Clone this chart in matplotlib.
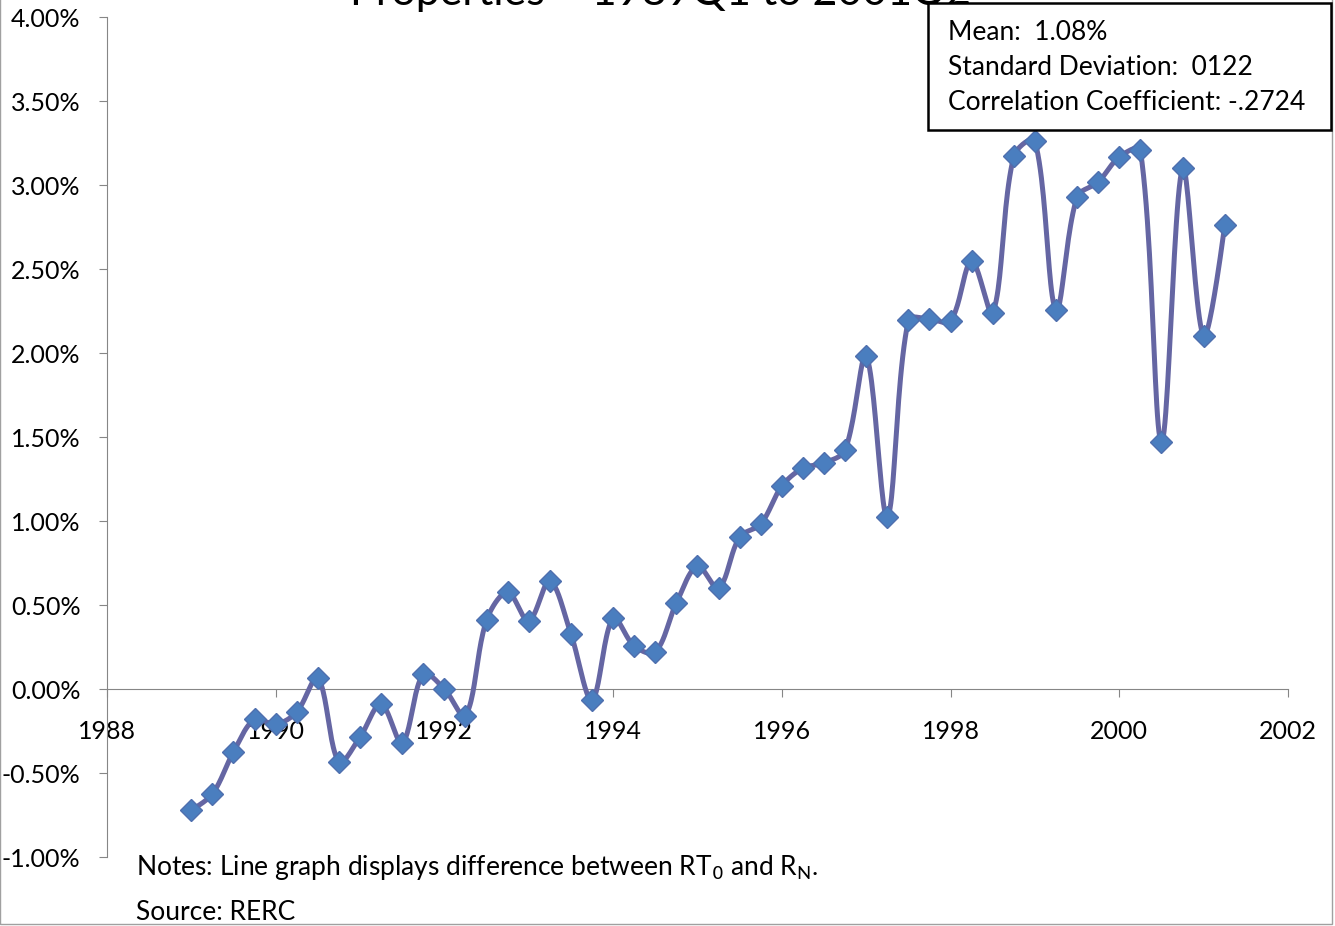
import matplotlib.pyplot as plt
from matplotlib.patches import Rectangle
import numpy as np

plt.rcParams['font.family'] = ['Lato', 'DejaVu Sans']

# quarterly observations, 1989Q1 .. 2001Q2
years = [1989 + 0.25 * i for i in range(50)]
spread = [-0.72, -0.625, -0.375, -0.18, -0.21, -0.137, 0.065, -0.435, -0.286, -0.089,
          -0.32, 0.089, 0.0, -0.16, 0.41, 0.577, 0.405, 0.643, 0.327, -0.065,
          0.423, 0.256, 0.22, 0.512, 0.732, 0.60, 0.905, 0.982, 1.208, 1.315,
          1.345, 1.423, 1.982, 1.024, 2.196, 2.202, 2.19, 2.548, 2.238, 3.173,
          3.262, 2.256, 2.929, 3.018, 3.167, 3.208, 1.47, 3.101, 2.101, 2.762]

y_ticks = [-1.0, -0.5, 0.0, 0.5, 1.0, 1.5, 2.0, 2.5, 3.0, 3.5, 4.0]
x_ticks = [1988, 1990, 1992, 1994, 1996, 1998, 2000, 2002]

stats_lines = ["Mean:  1.08%", "Standard Deviation:  0122", "Correlation Coefficient: -.2724"]


def smooth_curve(xs, ys, sx=84.36, sy=168.0, n=24):
    # smoothed line like excel: bezier segments, tangents weighted by segment length
    # (done in pixel-ish units so short hops next to long jumps don't overshoot)
    p = np.column_stack([np.asarray(xs, float) * sx, np.asarray(ys, float) * sy])
    m = len(p)
    d = np.hypot(*np.diff(p, axis=0).T)
    tang = np.zeros_like(p)
    for i in range(m):
        a = p[max(i - 1, 0)]
        b = p[min(i + 1, m - 1)]
        tang[i] = b - a
    out = []
    t = np.linspace(0, 1, n)[:, None]
    for i in range(m - 1):
        p0, p3 = p[i], p[i + 1]
        dl = d[i - 1] if i > 0 else d[i]
        dr = d[i + 1] if i + 1 < m - 1 else d[i]
        c1 = p0 + tang[i] * d[i] / (dl + d[i]) / 3 if i > 0 else p0
        c2 = p3 - tang[i + 1] * d[i] / (d[i] + dr) / 3 if i + 1 < m - 1 else p3
        b = (1 - t) ** 3 * p0 + 3 * (1 - t) ** 2 * t * c1 + 3 * (1 - t) * t ** 2 * c2 + t ** 3 * p3
        out.append(b)
    out = np.vstack(out)
    return out[:, 0] / sx, out[:, 1] / sy


fig = plt.figure(figsize=(13.35, 9.26), dpi=100)
ax = fig.add_axes([0.0801, 0.0745, 0.8847, 0.9071])

cx, cy = smooth_curve(years, spread)
ax.plot(cx, cy, color='#6566A3', linewidth=3.6, solid_capstyle='round', zorder=3)
ax.plot(years, spread, linestyle='none', marker='D', markersize=11,
        markerfacecolor='#4A7EBF', markeredgecolor='#4F6FAE', markeredgewidth=1, zorder=4)

ax.set_xlim(1988, 2002)
ax.set_ylim(-1.0, 4.0)
ax.set_yticks(y_ticks)
ax.set_yticklabels([f"{v:.2f}%" for v in y_ticks])
ax.set_xticks(x_ticks)
ax.set_xticklabels([str(v) for v in x_ticks])

for s in ['top', 'right']:
    ax.spines[s].set_visible(False)
ax.spines['left'].set_color('#868686')
ax.spines['bottom'].set_color('#868686')
ax.spines['bottom'].set_position(('data', 0))
ax.tick_params(axis='y', direction='out', length=6, color='#868686', labelsize=18, pad=13)
ax.tick_params(axis='x', direction='out', length=6, color='#868686', labelsize=18, pad=16)
for lbl in ax.get_yticklabels() + ax.get_xticklabels():
    lbl.set_color('black')

# title partly cut off at the top of the picture
fig.text(0.495, 0.9875, "Properties \u2013 1989Q1 to 2001Q2", fontsize=31,
         ha='center', va='bottom', zorder=1)

# stats box
box = Rectangle((928 / 1335, 1 - 130 / 926), 403 / 1335, 127 / 926, transform=fig.transFigure,
                facecolor='white', edgecolor='black', linewidth=1.8, zorder=5)
fig.add_artist(box)
for k, line in enumerate(stats_lines):
    fig.text(948 / 1335, 1 - (32 + 35.5 * k) / 926, line, fontsize=19, ha='left', va='center', zorder=6)

fig.text(136 / 1335, 1 - 868 / 926, r"Notes: Line graph displays difference between RT$_0$ and R$_\mathregular{N}$.",
         fontsize=19, ha='left', va='center')
fig.text(136 / 1335, 1 - 912 / 926, "Source: RERC", fontsize=19, ha='left', va='center')

# thin frame around the chart area
frame = Rectangle((0, 0.002), 0.998, 1.2, transform=fig.transFigure, fill=False,
                  edgecolor='#A0A0A0', linewidth=1)
fig.add_artist(frame)

fig.savefig('out.png', dpi=100)
